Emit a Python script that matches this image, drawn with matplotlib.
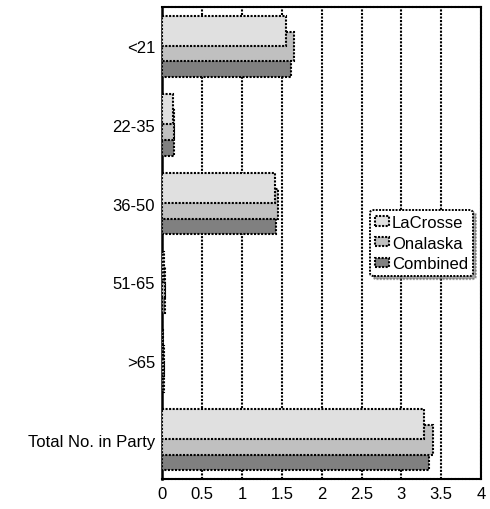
import matplotlib.pyplot as plt
import numpy as np

plt.rcParams["font.family"] = ["Liberation Sans", "DejaVu Sans"]

categories = ["<21", "22-35", "36-50", "51-65", ">65", "Total No. in Party"]
lacrosse = [1.55, 0.14, 1.41, 0.02, 0.01, 3.28]
onalaska = [1.65, 0.15, 1.45, 0.03, 0.02, 3.40]
combined = [1.62, 0.15, 1.43, 0.04, 0.02, 3.35]

series = [
    ("Combined", combined, "#808080", 0.2),
    ("Onalaska", onalaska, "#c0c0c0", 0.0),
    ("LaCrosse", lacrosse, "#e0e0e0", -0.2),
]

DOT = (0, (1, 0.7))


def main():
    fig = plt.figure(figsize=(4.9, 5.1), dpi=100)
    ax = fig.add_axes([0.331, 0.059, 0.651, 0.925])

    y = np.arange(len(categories))
    handles = {}
    for z, (name, vals, color, off) in enumerate(series):
        handles[name] = ax.barh(y + off, vals, height=0.38, color=color,
                                edgecolor="black", linestyle=DOT, linewidth=1.5,
                                zorder=3 + z, label=name)

    ax.set_xlim(0, 4)
    ax.set_ylim(len(categories) - 0.5, -0.5)
    ax.set_xticks(np.arange(0, 4.01, 0.5))
    ax.set_xticklabels(["0", "0.5", "1", "1.5", "2", "2.5", "3", "3.5", "4"])
    ax.set_yticks(y)
    ax.set_yticklabels(categories)
    ax.tick_params(axis="both", length=0, labelsize=12, pad=5)
    ax.tick_params(axis="y", pad=5)

    ax.grid(axis="x", color="black", linestyle=DOT, linewidth=1.5, zorder=1)
    ax.set_axisbelow(True)
    for side in ["top", "right", "bottom"]:
        ax.spines[side].set_linestyle(DOT)
        ax.spines[side].set_linewidth(1.5)
    ax.spines["left"].set_linewidth(1.8)

    leg = ax.legend([handles["LaCrosse"], handles["Onalaska"], handles["Combined"]],
                    ["LaCrosse", "Onalaska", "Combined"],
                    loc="center right", bbox_to_anchor=(0.975, 0.5),
                    fancybox=True, shadow=True, fontsize=12,
                    handlelength=0.8, handleheight=0.5, handletextpad=0.2,
                    borderpad=0.3, labelspacing=0.35, framealpha=1,
                    borderaxespad=0)
    leg.get_frame().set_linestyle(DOT)
    leg.get_frame().set_edgecolor("black")
    leg.get_frame().set_linewidth(1.4)
    leg.set_zorder(10)

    fig.savefig("out.png", dpi=100)


if __name__ == "__main__":
    main()
